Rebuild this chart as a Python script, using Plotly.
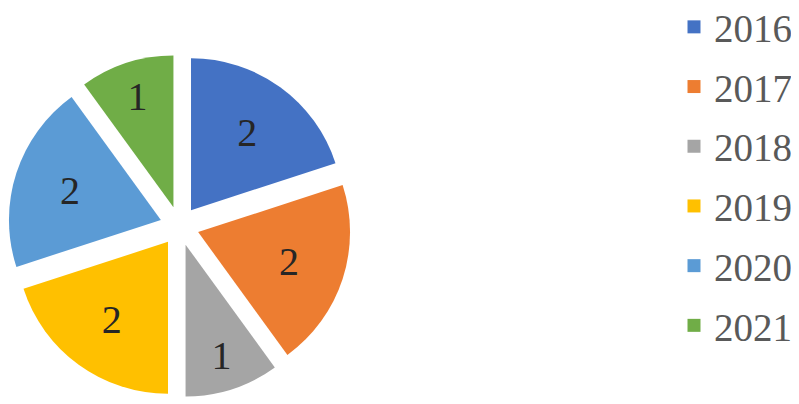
import plotly.graph_objs as go

years = ["2016", "2017", "2018", "2019", "2020", "2021"]
counts = [2, 2, 1, 2, 2, 1]
slice_colors = ["#4472C4", "#ED7D31", "#A5A5A5", "#FFC000", "#5B9BD5", "#70AD47"]

serif = "Liberation Serif"
W, H = 799, 404

fig = go.Figure()

fig.add_trace(go.Pie(
    labels=years,
    values=counts,
    sort=False,
    direction="clockwise",
    rotation=0,
    pull=0.129,
    marker=dict(colors=slice_colors, line=dict(width=0)),
    textinfo="value",
    textposition="inside",
    insidetextorientation="horizontal",
    textfont=dict(family=serif, size=40, color="#262626"),
    showlegend=False,
    domain=dict(x=[0, 343 / W], y=[(H - 389.5) / H, (H - 46.5) / H]),
))

# legend entries, one group each so the row spacing can be opened up
for yr, col in zip(years, slice_colors):
    fig.add_trace(go.Scatter(
        x=[None], y=[None], mode="markers", name=yr, legendgroup=yr,
        marker=dict(symbol="square", size=13, color=col),
    ))

fig.update_layout(
    width=W,
    height=H,
    margin=dict(l=0, r=0, t=0, b=0, autoexpand=False),
    paper_bgcolor="white",
    plot_bgcolor="white",
    xaxis=dict(visible=False),
    yaxis=dict(visible=False),
    showlegend=True,
    legend=dict(
        x=666 / W, y=1 + 13 / H, xanchor="left", yanchor="top",
        font=dict(family=serif, size=39, color="#595959"),
        itemwidth=30,
        tracegroupgap=6,
        maxheight=H,
        bgcolor="rgba(0,0,0,0)",
    ),
)

fig.write_html("out.html")
